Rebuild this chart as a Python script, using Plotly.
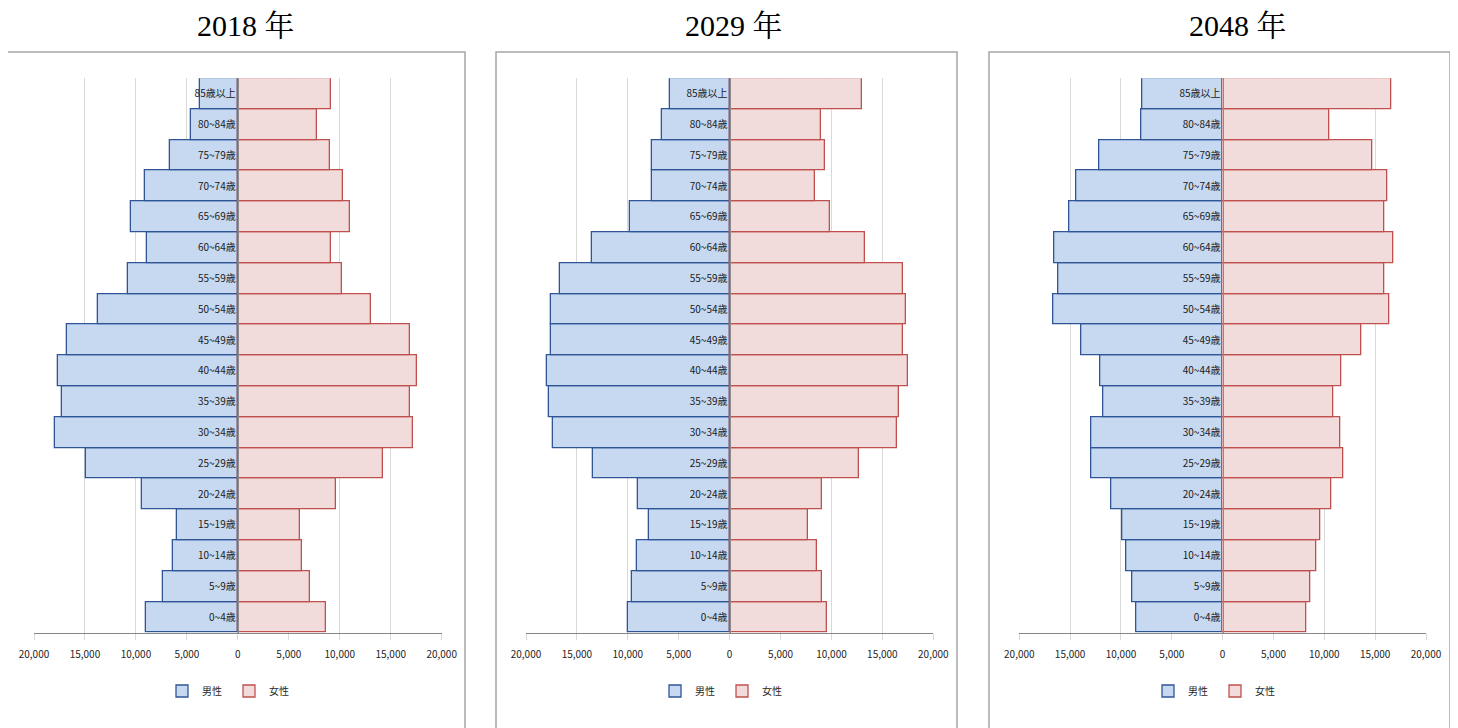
import plotly.graph_objects as go

# ---------------- data ----------------
ages = ["0~4歳", "5~9歳", "10~14歳", "15~19歳", "20~24歳", "25~29歳", "30~34歳",
        "35~39歳", "40~44歳", "45~49歳", "50~54歳", "55~59歳", "60~64歳",
        "65~69歳", "70~74歳", "75~79歳", "80~84歳", "85歳以上"]

years = ["2018 年", "2029 年", "2048 年"]

male_2018 = [9000, 7350, 6400, 6000, 9400, 14900, 17900, 17300, 17600, 16800,
             13700, 10800, 8900, 10500, 9100, 6700, 4600, 3700]
female_2018 = [8600, 7100, 6250, 6050, 9600, 14200, 17150, 16900, 17600, 16900,
               13050, 10200, 9100, 11000, 10300, 9000, 7800, 9100]

male_2029 = [10000, 9600, 9100, 7900, 9000, 13400, 17300, 17700, 17900, 17500,
             17500, 16700, 13500, 9800, 7600, 7650, 6600, 5900]
female_2029 = [9600, 9100, 8600, 7700, 9100, 12700, 16400, 16600, 17500, 17000,
               17300, 17000, 13300, 9900, 8400, 9400, 9000, 13000]

male_2048 = [8450, 8900, 9500, 9900, 11000, 12900, 12900, 11700, 12000, 13900,
             16700, 16200, 16600, 15100, 14400, 12100, 8050, 7950]
female_2048 = [8200, 8650, 9200, 9600, 10700, 11900, 11600, 10900, 11700, 13600,
               16400, 15900, 16800, 15900, 16200, 14700, 10500, 16600]

tick_values = [-20000, -15000, -10000, -5000, 0, 5000, 10000, 15000, 20000]
tick_labels = ["20,000", "15,000", "10,000", "5,000", "0", "5,000", "10,000", "15,000", "20,000"]

series_names = ["男性", "女性"]

# ---------------- layout helpers ----------------
W, H = 1458, 728
OFF = 8  # page body margin


def px_x(v):
    return (v - OFF) / W


def px_y(v):
    return 1 - (v - OFF) / H


panels = [
    dict(male=male_2018, female=female_2018, plot=(34, 441.7), frame=(4, 465), title_x=246, legend_x=229),
    dict(male=male_2029, female=female_2029, plot=(526, 933.3), frame=(496, 957), title_x=734, legend_x=722),
    dict(male=male_2048, female=female_2048, plot=(1019.3, 1426), frame=(989, 1450), title_x=1238, legend_x=1215),
]

MALE_FILL = "#C6D9F1"
MALE_LINE = "#2F5597"
FEMALE_FILL = "#F2DCDB"
FEMALE_LINE = "#C0504D"

LABEL_FONT = "Liberation Sans Narrow, Noto Sans CJK JP, sans-serif"

fig = go.Figure()
layout = dict(
    width=W, height=H,
    margin=dict(l=0, r=0, t=0, b=0, autoexpand=False),
    paper_bgcolor="white", plot_bgcolor="white",
    barmode="overlay", bargap=0,
    showlegend=True,
    annotations=[], shapes=[],
)

top_y, bottom_y = 78.3, 632.7

for i, p in enumerate(panels):
    n = "" if i == 0 else str(i + 1)
    xa, ya = "x" + n, "y" + n
    leg = "legend" + n
    x0, x1 = px_x(p["plot"][0]), px_x(p["plot"][1])

    fig.add_trace(go.Bar(
        y=ages, x=[-v for v in p["male"]], orientation="h", name=series_names[0],
        marker=dict(color=MALE_FILL, line=dict(color=MALE_LINE, width=1.3)),
        xaxis=xa, yaxis=ya, legend=leg,
    ))
    fig.add_trace(go.Bar(
        y=ages, x=p["female"], orientation="h", name=series_names[1],
        marker=dict(color=FEMALE_FILL, line=dict(color=FEMALE_LINE, width=1.3)),
        xaxis=xa, yaxis=ya, legend=leg,
    ))

    layout["xaxis" + n] = dict(
        domain=[x0, x1], anchor=ya, range=[-20000, 20000],
        tickvals=tick_values, ticktext=tick_labels,
        showgrid=True, gridcolor="#D9D9D9", gridwidth=1,
        showline=True, linecolor="#868686", linewidth=1.3,
        ticks="outside", ticklen=6, tickcolor="#D9D9D9",
        ticklabelstandoff=6,
        tickfont=dict(family=LABEL_FONT, size=10, color="#262626"),
        zeroline=False, fixedrange=True, automargin=False,
    )
    layout["yaxis" + n] = dict(
        domain=[px_y(bottom_y), px_y(top_y)], anchor="free",
        position=(x0 + x1) / 2,
        type="category", categoryorder="array", categoryarray=ages,
        showgrid=False, showline=True, linecolor="#8C8C8C", linewidth=1.3,
        ticks="", ticklabelposition="outside",
        tickfont=dict(family=LABEL_FONT, size=10, color="#1A1A1A"),
        fixedrange=True, automargin=False,
    )
    layout[leg] = dict(
        orientation="h", x=px_x(p["legend_x"]), y=px_y(691),
        xanchor="center", yanchor="middle",
        font=dict(family=LABEL_FONT, size=10, color="#262626"),
        bgcolor="rgba(0,0,0,0)", entrywidth=22, itemwidth=30,
    )
    layout["annotations"].append(dict(
        text=years[i], x=px_x(p["title_x"]), y=px_y(25), xref="paper", yref="paper",
        showarrow=False, xanchor="center", yanchor="middle",
        font=dict(family="Liberation Serif, Noto Serif CJK JP, Noto Sans CJK JP, serif", size=30, color="#000000"),
    ))
    layout["shapes"].append(dict(
        type="rect", xref="paper", yref="paper",
        x0=px_x(p["frame"][0]), x1=px_x(p["frame"][1]),
        y0=px_y(770), y1=px_y(52),
        line=dict(color="#A6A6A6", width=1.5), fillcolor="rgba(0,0,0,0)", layer="below",
    ))

fig.update_layout(**layout)
fig.write_html("out.html")
